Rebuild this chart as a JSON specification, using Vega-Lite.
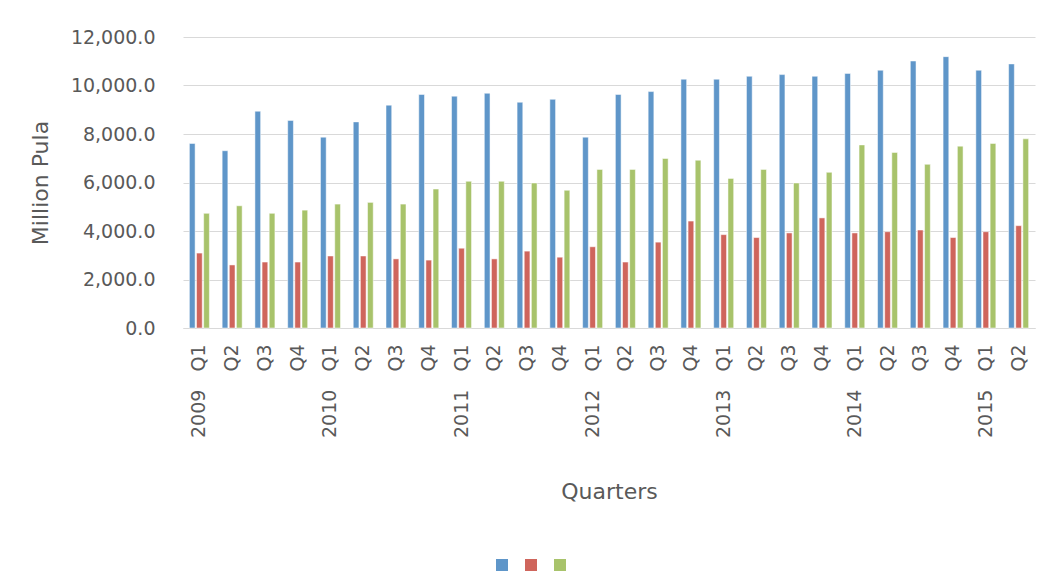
{
  "$schema": "https://vega.github.io/schema/vega-lite/v6.json",
  "width": 852,
  "height": 291,
  "autosize": {"type": "none"},
  "padding": {"left": 183, "top": 37, "right": 11, "bottom": 260},
  "background": "white",
  "config": {
    "view": {"stroke": null},
    "font": "DejaVu Sans"
  },
  "data": {
    "values": [
      {"period": "2009 Q1", "s1": 7610, "s2": 3090, "s3": 4730},
      {"period": "2009 Q2", "s1": 7310, "s2": 2600, "s3": 5040},
      {"period": "2009 Q3", "s1": 8940, "s2": 2720, "s3": 4730},
      {"period": "2009 Q4", "s1": 8560, "s2": 2720, "s3": 4860},
      {"period": "2010 Q1", "s1": 7870, "s2": 2970, "s3": 5110},
      {"period": "2010 Q2", "s1": 8500, "s2": 2970, "s3": 5180},
      {"period": "2010 Q3", "s1": 9190, "s2": 2850, "s3": 5110},
      {"period": "2010 Q4", "s1": 9630, "s2": 2800, "s3": 5730},
      {"period": "2011 Q1", "s1": 9560, "s2": 3290, "s3": 6050},
      {"period": "2011 Q2", "s1": 9680, "s2": 2850, "s3": 6050},
      {"period": "2011 Q3", "s1": 9310, "s2": 3170, "s3": 5980},
      {"period": "2011 Q4", "s1": 9430, "s2": 2920, "s3": 5680},
      {"period": "2012 Q1", "s1": 7870, "s2": 3350, "s3": 6540},
      {"period": "2012 Q2", "s1": 9630, "s2": 2720, "s3": 6540},
      {"period": "2012 Q3", "s1": 9750, "s2": 3540, "s3": 6990},
      {"period": "2012 Q4", "s1": 10260, "s2": 4410, "s3": 6920},
      {"period": "2013 Q1", "s1": 10260, "s2": 3850, "s3": 6170},
      {"period": "2013 Q2", "s1": 10380, "s2": 3730, "s3": 6540},
      {"period": "2013 Q3", "s1": 10450, "s2": 3920, "s3": 5980},
      {"period": "2013 Q4", "s1": 10380, "s2": 4540, "s3": 6420},
      {"period": "2014 Q1", "s1": 10500, "s2": 3920, "s3": 7550},
      {"period": "2014 Q2", "s1": 10630, "s2": 3970, "s3": 7240},
      {"period": "2014 Q3", "s1": 11010, "s2": 4040, "s3": 6750},
      {"period": "2014 Q4", "s1": 11190, "s2": 3730, "s3": 7500},
      {"period": "2015 Q1", "s1": 10630, "s2": 3970, "s3": 7610},
      {"period": "2015 Q2", "s1": 10890, "s2": 4220, "s3": 7800}
    ]
  },
  "transform": [
    {"fold": ["s1", "s2", "s3"], "as": ["series", "value"]}
  ],
  "mark": {"type": "bar", "stroke": "white", "strokeWidth": 0.5},
  "encoding": {
    "x": {
      "field": "period",
      "type": "nominal",
      "sort": null,
      "scale": {"paddingInner": 0.39, "paddingOuter": 0.195},
      "axis": {
        "title": "Quarters",
        "titleFont": "DejaVu Sans",
        "titleFontSize": 22,
        "titleFontWeight": "normal",
        "titleColor": "#595959",
        "titlePadding": 44,
        "labelAngle": -90,
        "labelAlign": "right",
        "labelBaseline": "middle",
        "labelFontSize": 19,
        "labelColor": "#595959",
        "labelPadding": 16,
        "labelExpr": "indexof(datum.value, 'Q1') > 0 ? replace(datum.value, ' ', '\u00a0\u00a0\u00a0') : split(datum.value, ' ')[1]",
        "ticks": false,
        "domainColor": "#d9d9d9",
        "domainWidth": 1,
        "labelOverlap": false
      }
    },
    "xOffset": {
      "field": "series",
      "type": "nominal",
      "scale": {"paddingInner": 0.2}
    },
    "y": {
      "field": "value",
      "type": "quantitative",
      "scale": {"domain": [0, 12000], "nice": false},
      "axis": {
        "title": "Million Pula",
        "titleFont": "DejaVu Sans",
        "titleFontSize": 22,
        "titleFontWeight": "normal",
        "titleColor": "#595959",
        "titlePadding": 18,
        "values": [0, 2000, 4000, 6000, 8000, 10000, 12000],
        "format": ",.1f",
        "labelFontSize": 19,
        "labelColor": "#595959",
        "labelPadding": 28,
        "ticks": false,
        "domain": false,
        "gridColor": "#d9d9d9",
        "gridWidth": 1
      }
    },
    "color": {
      "field": "series",
      "type": "nominal",
      "scale": {"domain": ["s1", "s2", "s3"], "range": ["#5f96c9", "#cf655c", "#a8c36b"]},
      "legend": {
        "title": null,
        "orient": "none",
        "direction": "horizontal",
        "legendX": 313,
        "legendY": 522,
        "padding": 0,
        "symbolType": "square",
        "symbolSize": 144,
        "symbolStrokeWidth": 0,
        "labelExpr": "''",
        "labelOffset": 0,
        "columnPadding": 17
      }
    }
  }
}
